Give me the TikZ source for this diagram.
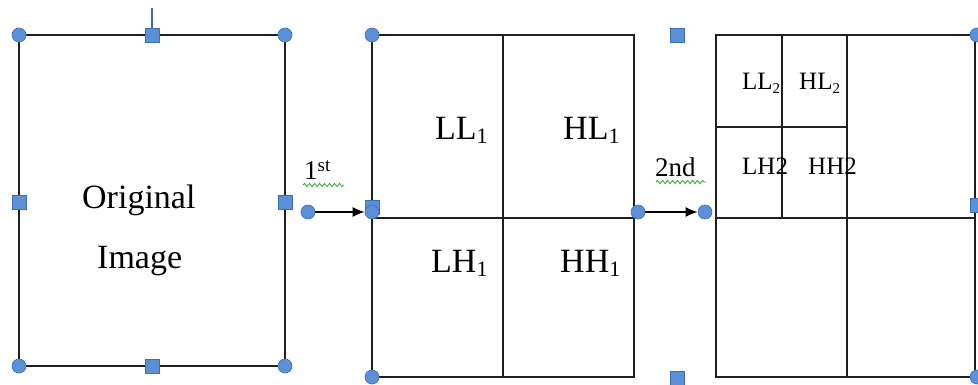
\documentclass[tikz,border=0pt]{standalone}
\usepackage{fontspec}
\setmainfont{Liberation Serif}
\usetikzlibrary{arrows.meta, decorations.pathmorphing}

\definecolor{handlefill}{RGB}{91,143,214}
\definecolor{handleline}{RGB}{60,110,184}
\definecolor{wavegreen}{RGB}{40,170,40}

% lowered / raised index in a given size
\newcommand{\lowidx}[2]{\raisebox{-4pt}{\fontsize{#1}{#1}\selectfont #2}}
\newcommand{\highidx}[2]{\raisebox{8pt}{\fontsize{#1}{#1}\selectfont #2}}

\begin{document}
\begin{tikzpicture}[x = 1pt, y = -1pt,
  frame/.style = {draw = black!88, line width = 1.8},
  dot/.style = {circle, fill = handlefill, draw = handleline, line width = 0.6, inner sep = 0pt, minimum size = 14},
  grip/.style = {rectangle, fill = handlefill, draw = handleline, line width = 0.6, inner sep = 0pt, minimum size = 14},
  link/.style = {draw = black, line width = 1.6, -{Latex[length = 12, width = 10]}},
  big/.style = {font = \fontsize{34}{40}\selectfont, inner sep = 0pt, anchor = base west},
  small/.style = {font = \fontsize{25}{30}\selectfont, inner sep = 0pt, anchor = base west},
  step label/.style = {font = \fontsize{27}{30}\selectfont, inner sep = 0pt, anchor = base west},
  wave/.style = {draw = wavegreen, line width = 0.8, decorate, decoration = {snake, amplitude = 1.6, segment length = 5}}]
\useasboundingbox (0, 0) rectangle (978, 385);

% first frame
\draw [frame] (19, 35) rectangle (285, 366);
\draw [handleline, line width = 1.2] (152, 35) -- (152, 8);

% second frame, one level
\draw [frame] (372, 35) rectangle (634, 377);
\draw [frame] (503, 35) -- (503, 377);
\draw [frame] (372, 218) -- (634, 218);

% third frame, two levels
\draw [frame] (716, 35) rectangle (975, 377);
\draw [frame] (847, 35) -- (847, 377);
\draw [frame] (716, 218) -- (975, 218);
\draw [frame] (782, 35) -- (782, 218);
\draw [frame] (716, 127) -- (847, 127);

% handles
\node [dot] (o1) at (19, 35) {};
\node [dot] (o2) at (285, 35) {};
\node [dot] (o3) at (19, 366) {};
\node [dot] (o4) at (285, 366) {};
\node [grip] (og1) at (152, 35) {};
\node [grip] (og2) at (19, 202) {};
\node [grip] (og3) at (285, 202) {};
\node [grip] (og4) at (152, 366) {};

\node [dot] (s1) at (372, 35) {};
\node [dot] (s2) at (372, 377) {};
\node [grip] (sg1) at (372, 207) {};
\node [dot] (s3) at (372, 212) {};
\node [grip] (sg2) at (677, 35) {};
\node [grip] (sg3) at (677, 378) {};

\node [dot] (t1) at (977, 35) {};
\node [grip] (tg1) at (977, 205) {};
\node [dot] (t2) at (977, 377) {};

% arrows between the frames
\node [dot] (a1) at (308, 212) {};
\node [dot] (a2) at (638, 212) {};
\node [dot] (a3) at (705, 212) {};
\draw [link] (a1) -- (s3);
\draw [link] (a2) -- (a3);

\node [step label] (first) at (304, 180) {1\highidx{19}{st}};
\draw [wave] (303, 185) -- (344, 185);
\node [step label] (second) at (655, 177) {2nd};
\draw [wave] (656, 182) -- (706, 182);

% labels
\node [big] (orig) at (82, 208) {Original};
\node [big] (img) at (97, 268) {Image};

\node [big] (ll1) at (435, 140) {LL\lowidx{22}{1}};
\node [big] (hl1) at (563, 140) {HL\lowidx{22}{1}};
\node [big] (lh1) at (431, 272) {LH\lowidx{22}{1}};
\node [big] (hh1) at (560, 272) {HH\lowidx{22}{1}};

\node [small] (ll2) at (742, 90) {LL\lowidx{15}{2}};
\node [small] (hl2) at (799, 90) {HL\lowidx{15}{2}};
\node [small] (lh2) at (742, 175) {LH2};
\node [small] (hh2) at (808, 175) {HH2};
\end{tikzpicture}
\end{document}
